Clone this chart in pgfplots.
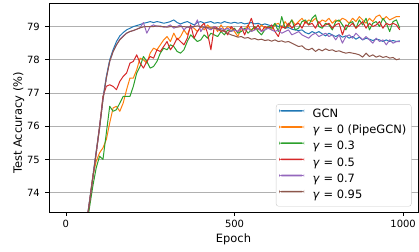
\documentclass[border=0pt]{standalone}
\usepackage{fontspec}
\setmainfont{DejaVu Sans}
\usepackage{pgfplots}
\pgfplotsset{compat=1.18}
\usepackage{pgfplotstable}
\definecolor{tabblue}{HTML}{1F77B4}
\definecolor{taborange}{HTML}{FF7F0E}
\definecolor{tabgreen}{HTML}{2CA02C}
\definecolor{tabred}{HTML}{D62728}
\definecolor{tabpurple}{HTML}{9467BD}
\definecolor{tabbrown}{HTML}{8C564B}
\pgfplotstableread{
e gcn g0 g3 g5 g7 g95
0 30 30 30 30 30 30
10 45 45 45 45 45 45
20 55 55 55 55 55 55
30 62 62 62 62 62 62
40 67 67 67 67 67 67
50 70.5 70.4 70.3 70.5 70.5 70.5
60 73.0 72.9 72.8 73.0 73.0 73.0
70 73.75 73.7 73.55 73.7 73.72 73.7
80 74.5 74.5 74.2 74.45 74.45 74.45
90 75.25 74.95 74.75 75.2 75.2 75.2
100 76.0 75.2 75.1 76.0 75.95 75.95
110 76.85 75.35 75.0 76.9 76.8 76.8
120 77.5 75.6 75.8 77.2 77.45 77.45
130 78.0 76.1 76.6 77.25 77.95 77.95
140 78.3 76.55 76.45 77.2 78.25 78.25
150 78.55 76.6 76.5 77.1 78.45 78.45
160 78.72 76.45 76.7 77.35 78.62 78.6
170 78.82 76.7 76.9 77.5 78.72 78.7
180 78.9 77.1 76.9 77.6 78.8 78.8
190 78.95 77.45 76.9 77.9 78.85 78.85
200 79.0 77.45 77.2 77.95 78.88 78.88
210 79.03 77.7 77.6 78.15 78.92 78.92
220 79.06 78.05 77.8 77.9 78.97 78.96
230 79.1 78.0 78.1 77.75 79.12 78.99
240 79.12 77.9 77.95 77.95 78.8 79.0
250 79.15 78.2 77.75 78.1 79.0 79.0
260 79.12 78.35 77.8 78.05 79.05 79.0
270 79.15 78.3 77.95 78.3 79.0 79.02
280 79.13 78.45 78.2 78.25 79.02 79.0
290 79.1 78.6 78.35 78.4 78.98 79.0
300 79.12 78.7 78.3 78.55 79.0 78.98
310 79.15 78.55 78.45 78.3 79.05 79.0
320 79.2 78.8 78.4 78.45 78.95 79.0
330 79.12 78.6 78.25 78.65 79.0 78.98
340 79.08 78.7 78.2 78.55 79.05 79.0
350 79.12 78.9 78.3 78.45 78.9 79.0
360 79.15 78.75 78.55 78.65 79.0 78.98
370 79.1 79.0 78.75 79.05 78.95 79.0
380 79.05 78.95 78.65 78.65 79.0 79.0
390 79.12 78.85 78.55 78.85 79.2 79.02
400 79.15 79.0 78.6 79.0 78.85 79.0
410 79.1 78.9 78.75 79.1 79.0 78.98
420 79.13 79.05 78.65 78.8 78.95 78.97
430 79.15 78.95 78.8 78.3 78.9 78.95
440 79.1 79.0 78.75 79.0 79.0 78.95
450 79.12 78.85 78.7 78.95 78.9 78.93
460 79.1 79.05 78.85 78.85 78.95 78.9
470 79.15 78.9 78.75 78.9 78.9 78.85
480 79.12 79.0 78.9 78.75 78.95 78.8
490 79.1 78.95 78.85 79.0 78.85 78.75
500 79.13 78.85 78.95 78.9 78.9 78.72
510 79.1 78.7 78.8 78.85 78.85 78.68
520 79.12 78.95 78.85 79.0 78.95 78.7
530 79.08 78.9 78.95 78.75 78.9 78.65
540 79.1 79.05 78.8 79.0 78.95 78.67
550 79.12 78.85 78.9 79.25 78.85 78.62
560 79.08 79.0 79.0 78.9 78.9 78.64
570 79.1 78.9 78.85 79.05 78.95 78.6
580 79.05 79.05 78.75 78.85 78.85 78.62
590 79.08 78.95 78.9 79.0 78.9 78.58
600 79.05 79.0 79.0 78.95 78.95 78.6
610 79.02 78.9 78.95 79.05 78.9 78.56
620 79.05 79.05 79.1 78.85 78.85 78.6
630 79.0 79.1 78.85 78.7 78.9 78.55
640 79.02 78.95 79.3 79.0 78.8 78.57
650 78.95 79.15 78.95 78.95 78.85 78.53
660 78.97 79.0 79.05 79.1 78.9 78.55
670 78.92 79.2 79.2 78.95 78.75 78.5
680 78.9 79.05 78.9 79.05 78.8 78.45
690 78.88 79.15 78.95 79.1 78.85 78.4
700 78.9 79.25 79.15 78.95 78.75 78.42
710 78.82 79.1 79.2 79.15 78.7 78.33
720 78.78 79.2 79.05 79.05 78.65 78.3
730 78.85 79.15 79.25 79.1 78.75 78.35
740 78.8 79.25 79.35 78.95 78.8 78.25
750 78.85 79.1 79.0 79.15 78.7 78.32
760 78.78 79.2 78.95 79.0 78.75 78.27
770 78.72 79.15 79.1 79.05 78.8 78.33
780 78.8 79.25 79.05 79.1 78.7 78.28
790 78.75 79.1 78.9 78.95 78.75 78.3
800 78.7 79.2 79.15 79.05 78.6 78.25
810 78.75 79.15 79.2 79.1 78.75 78.27
820 78.68 79.25 79.05 78.75 78.5 78.23
830 78.72 79.2 78.9 79.05 78.7 78.2
840 78.65 79.1 79.1 79.0 78.75 78.22
850 78.7 79.25 79.15 79.1 78.65 78.2
860 78.62 79.15 78.95 78.95 78.8 78.18
870 78.68 79.3 79.2 79.05 78.7 78.15
880 78.6 79.2 79.05 79.15 78.6 78.08
890 78.65 79.1 79.25 78.95 78.7 78.2
900 78.62 79.25 78.9 79.1 78.6 78.1
910 78.58 79.15 79.1 79.0 78.5 78.15
920 78.62 79.3 79.15 79.05 78.65 78.08
930 78.6 79.35 79.0 79.15 78.55 78.12
940 78.55 79.2 79.25 78.95 78.6 78.07
950 78.6 79.3 79.1 79.1 78.45 78.1
960 78.55 79.2 78.85 79.05 78.6 78.05
970 78.58 79.25 79.15 79.1 78.5 78.07
980 78.55 79.3 79.2 79.05 78.55 78.0
990 78.57 79.3 78.95 78.9 78.55 78.03
}\data
\begin{document}
\begin{tikzpicture}
\path[use as bounding box] (-49bp,-40bp) rectangle (370bp,212bp);
\begin{axis}[
  at={(0,0)}, anchor=south west,
  scale only axis, width=369bp, height=209bp,
  xmin=-50, xmax=1044, ymin=73.42, ymax=79.71,
  xtick={0,500,1000}, ytick={74,75,76,77,78,79},
  /pgf/number format/1000 sep={},
  /pgf/number format/assume math mode=true,
  tick pos=left, tick align=outside,
  major tick length=3.8bp,
  tick style={black, line width=0.7bp},
  axis line style={line width=0.8bp},
  ymajorgrids, grid style={color=black!31, line width=0.8bp},
  ticklabel style={font=\fontsize{10}{12}\selectfont},
  xticklabel style={yshift=-1bp},
  yticklabel style={xshift=-2bp},
  label style={font=\fontsize{11.5}{13}\selectfont},
  xlabel={Epoch}, ylabel={Test Accuracy (\%)},
  xlabel style={at={(axis description cs:0.5,-0.147)}, anchor=base},
  ylabel style={at={(axis description cs:-0.0732,0.426)}, anchor=base},
  clip=true,
  every axis plot/.append style={line width=1bp, line join=round},
  legend cell align=left,
  legend image code/.code={\fill[#1, draw=none] (0bp,3.3bp) rectangle (25bp,4.9bp); \path (31bp,4bp);},
  legend style={at={(axis description cs:1,0)}, anchor=south east,
    xshift=-6.5bp, yshift=5.5bp, draw=black!20, rounded corners=2.5bp,
    fill=white,
    font=\fontsize{11.5}{13}\selectfont, row sep=2.1bp,
    inner xsep=3bp, inner ysep=3.5bp,
    nodes={inner sep=2bp, text height=0.77em, text depth=0.24em}},
]
\addplot[color=tabblue] table[x=e,y=gcn] {\data};
\addlegendentry{GCN}
\addplot[color=taborange] table[x=e,y=g0] {\data};
\addlegendentry{\textit{γ} = 0 (PipeGCN)}
\addplot[color=tabgreen] table[x=e,y=g3] {\data};
\addlegendentry{\textit{γ} = 0.3}
\addplot[color=tabred] table[x=e,y=g5] {\data};
\addlegendentry{\textit{γ} = 0.5}
\addplot[color=tabpurple] table[x=e,y=g7] {\data};
\addlegendentry{\textit{γ} = 0.7}
\addplot[color=tabbrown] table[x=e,y=g95] {\data};
\addlegendentry{\textit{γ} = 0.95}
\end{axis}
\end{tikzpicture}
\end{document}
